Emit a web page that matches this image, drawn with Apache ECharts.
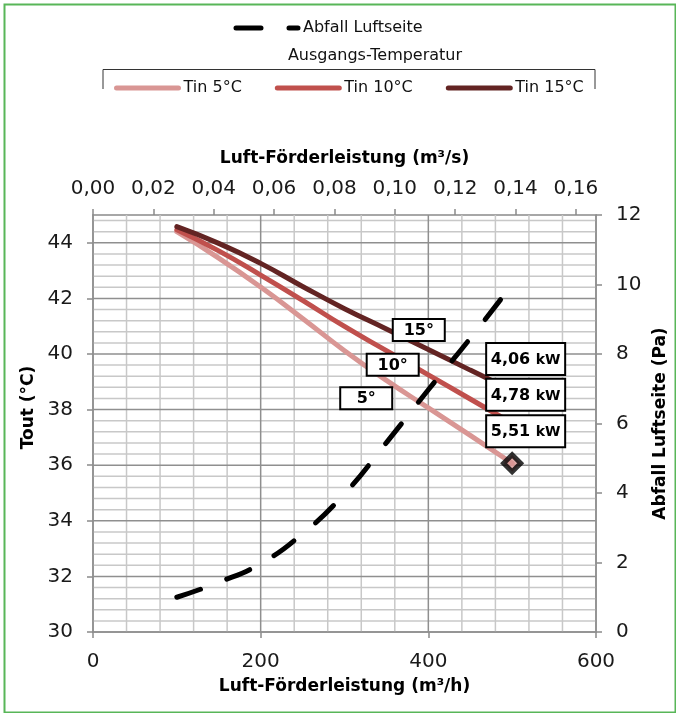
<!DOCTYPE html>
<html><head><meta charset="utf-8">
<script src="https://cdn.jsdelivr.net/npm/echarts@6/dist/echarts.min.js"></script>
<style>html,body{margin:0;padding:0;background:#fff}#c{width:676px;height:713px}</style>
</head><body><div id="c"></div>
<script>
// ---- data ----
const flowM3h = [100, 150, 200, 250, 300, 350, 400, 450, 500];
const tin5  = [44.40, 43.45, 42.41, 41.28, 40.12, 39.05, 38.06, 37.07, 36.07];
const tin10 = [44.47, 43.71, 42.84, 41.93, 40.99, 40.12, 39.25, 38.38, 37.51];
const tin15 = [44.58, 43.98, 43.26, 42.43, 41.63, 40.90, 40.16, 39.42, 38.69];
const abfallPa = [1.0, 1.43, 1.97, 2.83, 3.98, 5.45, 6.97, 8.45, 10.0];
const seriesNames = ['Tin 5°C', 'Tin 10°C', 'Tin 15°C'];
const pressureName = 'Abfall Luftseite';
const legendTitle = 'Ausgangs-Temperatur';
const tempTags = ['5°', '10°', '15°'];
const tempTagAt = [[325.9, 38.41], [357.5, 39.61], [388.6, 40.86]];
const powerTags = ['5,51', '4,78', '4,06'];
const powerUnit = 'kW';
const powerTagAt = [[516.1, 37.22], [516.1, 38.53], [516.1, 39.82]];
const xName = 'Luft-Förderleistung (m³/h)';
const x2Name = 'Luft-Förderleistung (m³/s)';
const yName = 'Tout (°C)';
const y2Name = 'Abfall Luftseite (Pa)';

// ---- axis ranges ----
const X_MIN = 0, X_MAX = 600, X_MAJOR = 200, X_MINOR = 40;
const Y_MIN = 30, Y_MAX = 45, Y_MAJOR = 2, Y_MINOR = 0.4;
const xGrid = [];
for (let k = 0; X_MIN + k * X_MINOR <= X_MAX + 1e-9; k++) xGrid.push(X_MIN + k * X_MINOR);
const yGrid = [];
for (let k = 0; Y_MIN + k * Y_MINOR <= Y_MAX + 1e-9; k++) yGrid.push(+(Y_MIN + k * Y_MINOR).toFixed(4));

// ---- styling ----
const FONT = 'DejaVu Sans';
const colors = ['#D99694', '#C0504D', '#632423'];
const axisGray = '#8a8a8a';
const majorGrid = '#8f8f8f';
const minorGrid = '#c8c8c8';
const tickFont = {fontFamily: FONT, fontSize: 20, color: '#1a1a1a'};
const nameFont = {fontFamily: FONT, fontSize: 17, fontWeight: 'bold', color: '#000'};
const lineAxis = {show: true, onZero: false, lineStyle: {color: axisGray, width: 1.5}};
const tickOut = {show: true, inside: false, length: 6, lineStyle: {color: axisGray, width: 1.5}};

function isMultiple(v, base, step) {
  const q = (v - base) / step;
  return Math.abs(q - Math.round(q)) < 1e-6;
}

const chart = echarts.init(document.getElementById('c'), null, {renderer: 'canvas'});

function tagSeries(name, at, texts, w, h, withUnit) {
  return {
    type: 'custom', name: name, xAxisIndex: 0, yAxisIndex: 0, z: 20, silent: true, clip: false,
    data: at.map((p, i) => [p[0], p[1], i]),
    renderItem: function (params, api) {
      const c = api.coord([api.value(0), api.value(1)]);
      const i = api.value(2);
      const txt = withUnit ? '{a|' + texts[i] + ' }{b|' + powerUnit + '}' : '{a|' + texts[i] + '}';
      return {
        type: 'group', children: [
          {type: 'rect', shape: {x: c[0] - w / 2, y: c[1] - h / 2, width: w, height: h},
           style: {fill: '#fff', stroke: '#000', lineWidth: 2}},
          {type: 'text', x: c[0], y: c[1] + 1,
           style: {text: txt, align: 'center', verticalAlign: 'middle',
             rich: {a: {fontFamily: FONT, fontWeight: 'bold', fontSize: 16, fill: '#000'},
                    b: {fontFamily: FONT, fontWeight: 'bold', fontSize: 14, fill: '#000'}}}}
        ]
      };
    }
  };
}

function gridSeries(name, values, vertical) {
  return {
    type: 'custom', name: name, xAxisIndex: 0, yAxisIndex: 0, z: 1, silent: true, clip: false,
    data: values.map(v => vertical ? [v, Y_MIN] : [X_MIN, v]),
    renderItem: function (params, api) {
      const v = vertical ? api.value(0) : api.value(1);
      const a = vertical ? api.coord([v, Y_MIN]) : api.coord([X_MIN, v]);
      const b = vertical ? api.coord([v, Y_MAX]) : api.coord([X_MAX, v]);
      const major = vertical ? isMultiple(v, X_MIN, X_MAJOR) : isMultiple(v, Y_MIN, Y_MAJOR);
      return {
        type: 'line', z2: major ? 2 : 1,
        shape: {x1: a[0], y1: a[1], x2: b[0], y2: b[1]},
        style: {stroke: major ? majorGrid : minorGrid, lineWidth: 1.5}
      };
    }
  };
}

const legendCommon = {
  itemWidth: 62, itemHeight: 14, selectedMode: false, padding: 0,
  lineStyle: {width: 5, cap: 'round'},
  itemStyle: {opacity: 0, borderWidth: 0},
  textStyle: {fontFamily: FONT, fontSize: 16, color: '#111'}
};

const option = {
  animation: false,
  backgroundColor: '#fff',
  grid: {left: 93, right: 80, top: 215, bottom: 81, containLabel: false, outerBoundsMode: 'none'},
  legend: [
    Object.assign({data: [pressureName], left: 233.5, top: 20}, legendCommon),
    Object.assign({data: seriesNames, left: 114, top: 80, itemGap: 33}, legendCommon)
  ],
  graphic: [
    {type: 'rect', left: 2, top: 2, z: 100, silent: true,
     shape: {width: 671, height: 708}, style: {fill: null, stroke: '#58b658', lineWidth: 2}},
    {type: 'text', x: 375, y: 56, silent: true,
     style: {text: legendTitle, align: 'center', verticalAlign: 'middle', fontFamily: FONT, fontSize: 16, fill: '#111'}},
    {type: 'polyline', silent: true,
     shape: {points: [[103, 89], [103, 69.5], [595, 69.5], [595, 89]]},
     style: {stroke: '#333', lineWidth: 1, fill: null}}
  ],
  xAxis: [
    {type: 'value', position: 'bottom', min: X_MIN, max: X_MAX, interval: X_MAJOR,
     axisLine: lineAxis, axisTick: tickOut,
     axisLabel: Object.assign({margin: 20}, tickFont),
     splitLine: {show: false},
     name: xName, nameLocation: 'middle', nameGap: 46, nameTextStyle: nameFont},
    {type: 'value', position: 'top', min: X_MIN / 3600, max: X_MAX / 3600, interval: 0.02,
     axisLine: lineAxis, axisTick: tickOut,
     axisLabel: Object.assign({margin: 16, showMaxLabel: false,
       formatter: v => v.toFixed(2).replace('.', ',')}, tickFont),
     splitLine: {show: false},
     name: x2Name, nameLocation: 'middle', nameGap: 48, nameTextStyle: nameFont}
  ],
  yAxis: [
    {type: 'value', position: 'left', min: Y_MIN, max: Y_MAX, interval: Y_MAJOR,
     axisLine: lineAxis, axisTick: tickOut,
     axisLabel: Object.assign({margin: 20, showMaxLabel: false}, tickFont),
     splitLine: {show: false},
     name: yName, nameLocation: 'middle', nameGap: 54, nameRotate: 90,
     nameTextStyle: Object.assign({padding: [0, 0, 0, 32]}, nameFont)},
    {type: 'value', position: 'right', min: 0, max: 12, interval: 2,
     axisLine: lineAxis, axisTick: tickOut,
     axisLabel: Object.assign({margin: 20}, tickFont),
     splitLine: {show: false},
     name: y2Name, nameLocation: 'middle', nameGap: 54, nameRotate: 90, nameTextStyle: nameFont}
  ],
  series: [
    gridSeries('gridV', xGrid, true),
    gridSeries('gridH', yGrid, false),
    {name: seriesNames[0], type: 'line', xAxisIndex: 0, yAxisIndex: 0, z: 3, smooth: true, symbol: 'none',
     data: flowM3h.map((x, i) => [x, tin5[i]]),
     lineStyle: {color: colors[0], width: 5, cap: 'round'}, itemStyle: {color: colors[0]}},
    {name: seriesNames[1], type: 'line', xAxisIndex: 0, yAxisIndex: 0, z: 4, smooth: true, symbol: 'none',
     data: flowM3h.map((x, i) => [x, tin10[i]]),
     lineStyle: {color: colors[1], width: 5, cap: 'round'}, itemStyle: {color: colors[1]}},
    {name: seriesNames[2], type: 'line', xAxisIndex: 0, yAxisIndex: 0, z: 5, smooth: true, symbol: 'none',
     data: flowM3h.map((x, i) => [x, tin15[i]]),
     lineStyle: {color: colors[2], width: 5, cap: 'round'}, itemStyle: {color: colors[2]}},
    {name: pressureName, type: 'line', xAxisIndex: 0, yAxisIndex: 1, z: 6, smooth: true, symbol: 'none',
     data: flowM3h.map((x, i) => [x, abfallPa[i]]),
     lineStyle: {color: '#000', width: 5, cap: 'round', type: [25, 28]}, itemStyle: {color: '#000'}},
    {name: 'marker', type: 'scatter', xAxisIndex: 0, yAxisIndex: 0, z: 7, silent: true,
     data: [[flowM3h[flowM3h.length - 1], tin5[tin5.length - 1]]],
     symbol: 'diamond', symbolSize: 17,
     itemStyle: {color: colors[0], borderColor: '#000', borderWidth: 5}},
    tagSeries('tempTags', tempTagAt, tempTags, 52, 22, false),
    tagSeries('powerTags', powerTagAt, powerTags, 79, 32, true)
  ]
};
chart.setOption(option);
</script></body></html>
